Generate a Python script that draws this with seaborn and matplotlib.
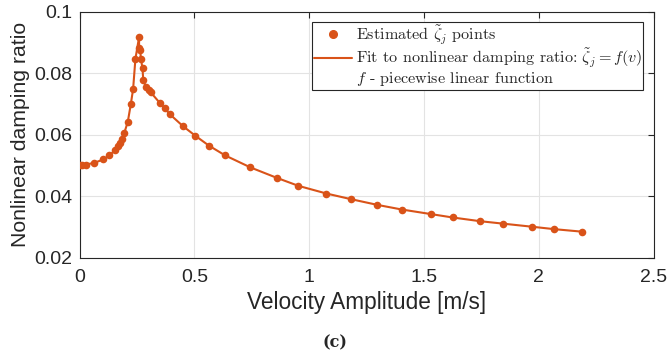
import matplotlib
matplotlib.use("Agg")
import matplotlib.pyplot as plt
import seaborn as sns
import pandas as pd
from matplotlib.lines import Line2D

velocity = [0.0, 0.011, 0.026, 0.064, 0.104, 0.13, 0.156, 0.166, 0.176, 0.184, 0.195,
            0.21, 0.223, 0.233, 0.243, 0.259, 0.259, 0.264, 0.267, 0.274, 0.277, 0.289,
            0.301, 0.309, 0.348, 0.37, 0.393, 0.449, 0.504, 0.563, 0.634, 0.744,
            0.859, 0.953, 1.075, 1.18, 1.297, 1.403, 1.531, 1.625, 1.744, 1.844,
            1.97, 2.068, 2.186]
damping = [0.0503, 0.0503, 0.0503, 0.0509, 0.0520, 0.0533, 0.0552, 0.0564, 0.0575, 0.0586,
           0.0607, 0.0643, 0.0700, 0.0749, 0.0847, 0.0918, 0.0882, 0.0876, 0.0847, 0.0816,
           0.0779, 0.0755, 0.0746, 0.0739, 0.0705, 0.0687, 0.0667, 0.0629, 0.0597, 0.0565,
           0.0533, 0.0494, 0.0460, 0.0434, 0.0409, 0.0391, 0.0372, 0.0357, 0.0342, 0.0331,
           0.0319, 0.0311, 0.0301, 0.0293, 0.0285]

xticks = [0, 0.5, 1, 1.5, 2, 2.5]
xticklabels = ["0", "0.5", "1", "1.5", "2", "2.5"]
yticks = [0.02, 0.04, 0.06, 0.08, 0.1]
yticklabels = ["0.02", "0.04", "0.06", "0.08", "0.1"]

df = pd.DataFrame({"v": velocity, "z": damping})
color = "#D95319"

sns.set_style("white")
plt.rcParams["font.family"] = ["Liberation Sans", "DejaVu Sans"]
plt.rcParams["mathtext.fontset"] = "cm"

fig = plt.figure(figsize=(6.69, 3.62), dpi=100)
ax = fig.add_axes([0.119, 0.288, 0.858, 0.679])

sns.lineplot(data=df, x="v", y="z", ax=ax, color=color, linewidth=1.5, sort=False,
             estimator=None)
sns.scatterplot(data=df, x="v", y="z", ax=ax, color=color, s=30, edgecolor=color,
                linewidth=0, zorder=3)

ax.set_xlim(0, 2.5)
ax.set_ylim(0.02, 0.1)
ax.set_xticks(xticks)
ax.set_xticklabels(xticklabels)
ax.set_yticks(yticks)
ax.set_yticklabels(yticklabels)
ax.grid(True, color="#e3e3e3", linewidth=0.8)
ax.set_axisbelow(True)
for s in ax.spines.values():
    s.set_color("#262626")
    s.set_linewidth(0.8)
ax.tick_params(direction="in", top=True, right=True, length=4, width=0.8,
               colors="#262626", labelsize=14, labelcolor="#262626")
ax.tick_params(axis="x", pad=8)
ax.tick_params(axis="y", pad=5)
ax.set_xlabel("Velocity Amplitude [m/s]", fontsize=16.3, color="#262626", labelpad=4)
ax.set_ylabel("Nonlinear damping ratio", fontsize=15.3, color="#262626", labelpad=3)

handles = [
    Line2D([], [], color=color, marker="o", linestyle="none", markersize=5.5),
    Line2D([], [], color=color, linewidth=1.5),
    Line2D([], [], color="none"),
]
labels = [
    r"Estimated $\tilde{\zeta}_j$ points",
    r"Fit to nonlinear damping ratio: $\tilde{\zeta}_j = f(v)$",
    r"$f$ - piecewise linear function",
]
leg = ax.legend(handles, labels, loc="upper right", bbox_to_anchor=(0.982, 0.96),
                prop={"family": "cmr10", "size": 11.6}, frameon=True, fancybox=False,
                edgecolor="#262626", framealpha=1, handlelength=2.4, handletextpad=0.2,
                borderpad=0.1, labelspacing=0.0, borderaxespad=0)
leg.get_frame().set_linewidth(0.8)

fig.text(0.5, 0.052, "(c)", ha="center", va="center", fontsize=11.5,
         family="DejaVu Serif", fontweight="bold")

fig.savefig("out.png", dpi=100)
